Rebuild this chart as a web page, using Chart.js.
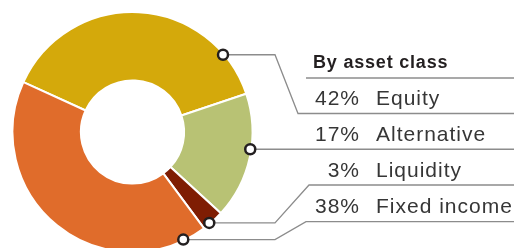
<!DOCTYPE html>
<html>
<head>
<meta charset="utf-8">
<script src="https://cdn.jsdelivr.net/npm/chart.js@4"></script>
<style>
  html, body { margin: 0; padding: 0; background: #fff; overflow: hidden; }
  #wrap { position: relative; width: 514px; height: 248px; overflow: hidden; }
  #chart { position: absolute; left: 0; top: 0; }
  .lbl { position: absolute; font-family: "Liberation Sans", Arial, sans-serif; color: #363636; white-space: nowrap; }
  .head { font-size: 18px; line-height: 18px; font-weight: bold; letter-spacing: 0.8px; color: #231f20; }
  .row { font-size: 21px; line-height: 21px; letter-spacing: 1px; }
  .pct { text-align: right; }
</style>
</head>
<body>
<div id="wrap">
  <canvas id="chart" width="514" height="248"></canvas>
</div>
<script>
// asset classes, in drawing order (clockwise from the left boundary)
var categories = ['Equity', 'Alternative', 'Liquidity', 'Fixed income'];
// shares printed in the table
var shares = [42, 17, 3, 38];
// arc sizes as drawn in the ring
var arcShares = [38, 17, 3, 42];
var colors = ['#d4a90b', '#b8c274', '#7f1d03', '#e06c2b'];
var title = 'By asset class';

$ = function(id){ return document.getElementById(id); };

// table text
(function(){
	var wrap = $('wrap');
	var h = document.createElement('div');
	h.className = 'lbl head';
	h.style.left = '313px';
	h.style.top = '53px';
	h.textContent = title;
	wrap.appendChild(h);
	for(var i = 0; i < categories.length; i++){
		var top = 87 + i * 36;
		var p = document.createElement('div');
		p.className = 'lbl row pct';
		p.style.left = '290px';
		p.style.width = '70px';
		p.style.top = top + 'px';
		p.textContent = shares[i] + '%';
		wrap.appendChild(p);
		var n = document.createElement('div');
		n.className = 'lbl row';
		n.style.left = '376px';
		n.style.top = top + 'px';
		n.textContent = categories[i];
		wrap.appendChild(n);
	}
})();

// callout: where on the arc the dot sits, and the table line it runs to
var callouts = [
	{frac: 0.84, lineY: 113.5, lineX: 298},
	{frac: 0.44, lineY: null, lineX: 280},
	{frac: 0.67, lineY: 185, lineX: 309},
	{frac: 0.075, lineY: 221.7, lineX: 306}
];

var calloutPlugin = {
	id: 'callouts',
	afterDraw: function(chart){
		var ctx = chart.ctx, arcs = chart.getDatasetMeta(0).data;
		ctx.save();
		ctx.strokeStyle = '#8c8c8c';
		ctx.lineWidth = 1.3;
		// header rule
		ctx.beginPath();
		ctx.moveTo(306, 78);
		ctx.lineTo(514, 78);
		ctx.stroke();
		var dots = [];
		arcs.forEach(function(arc, i){
			var p = arc.getProps(['x', 'y', 'startAngle', 'endAngle', 'outerRadius'], true);
			var c = callouts[i];
			var a = p.startAngle + c.frac * (p.endAngle - p.startAngle);
			var r = p.outerRadius - 1;
			var dx = p.x + Math.cos(a) * r, dy = p.y + Math.sin(a) * r;
			var ly = c.lineY == null ? dy : c.lineY;
			ctx.beginPath();
			ctx.moveTo(dx, dy);
			ctx.lineTo(275, dy);
			ctx.lineTo(c.lineX, ly);
			ctx.lineTo(514, ly);
			ctx.stroke();
			dots.push([dx, dy]);
		});
		ctx.fillStyle = '#fff';
		ctx.strokeStyle = '#231f20';
		ctx.lineWidth = 2.5;
		dots.forEach(function(d){
			ctx.beginPath();
			ctx.arc(d[0], d[1], 5, 0, Math.PI * 2);
			ctx.fill();
			ctx.stroke();
		});
		ctx.restore();
	}
};

new Chart($('chart'), {
	type: 'doughnut',
	data: {
		labels: categories,
		datasets: [{
			data: arcShares,
			backgroundColor: colors,
			borderColor: '#fff',
			borderWidth: 2,
			hoverOffset: 0
		}]
	},
	options: {
		responsive: false,
		animation: false,
		events: [],
		rotation: 294.6,
		radius: 120,
		cutout: '43%',
		layout: { padding: { left: 12, right: 261, top: 16, bottom: 0 } },
		plugins: {
			legend: { display: false },
			tooltip: { enabled: false }
		}
	},
	plugins: [calloutPlugin]
});
</script>
</body>
</html>
